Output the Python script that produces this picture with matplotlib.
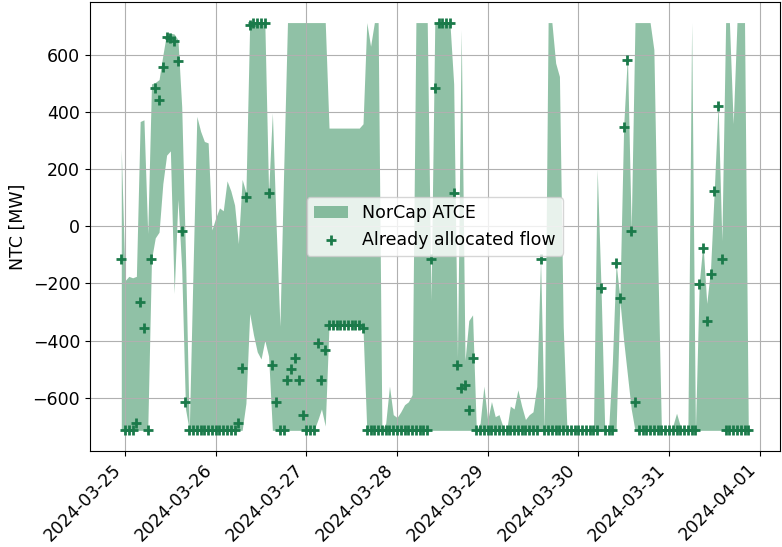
import pandas as pd
import matplotlib
matplotlib.use("Agg")
import matplotlib.pyplot as plt
import matplotlib.dates as mdates

# ----- data (hourly, first stamp 2024-03-24 23:00) -----
START = "2024-03-24 23:00"

ntc_upper = [
    270, -190, -175, -180, -175, 368, 374, -25, 500, 505, 515, 600,
    678, 678, 675, 655, 420, -100, -715, -150, 386, 334, 298, 293,
    -12, 30, 65, 55, 160, 125, 75, -60, 165, 120, 715, 715,
    715, 715, 715, 120, 398, 0, -350, 200, 715, 715, 715, 715,
    715, 715, 715, 715, 715, 715, 715, 345, 345, 345, 345, 345,
    345, 345, 345, 345, 360, 715, 632, 715, 715, -715, -690, -560,
    -660, -670, -650, -625, -615, -590, 715, 715, 715, 715, -260, 715,
    715, 715, 715, 715, 500, -460, 690, -470, -330, -310, -715, -690,
    -560, -680, -614, -667, -660, -700, -715, -630, -640, -573, -630, -677,
    -660, -650, -561, -115, -715, 715, 715, 573, 526, -350, -715, -715,
    -715, -715, -715, -715, -715, -715, 200, -210, -715, -715, -480, -129,
    -250, 351, 600, -10, 715, 715, 715, 715, 715, 620, -100, -715,
    -715, -715, -700, -655, -700, -715, -715, 715, -715, -200, -60, -270,
    -150, 130, 430, -50, 715, 715, 360, 715, 715, 715, -715,
]

ntc_lower = [
    -715, -715, -715, -715, -715, -715, -715, -715, -115, -40, -20, 150,
    250, 265, -235, 95, -150, -640, -715, -715, -715, -715, -715, -715,
    -715, -715, -715, -715, -715, -715, -715, -715, -715, -620, -305, -380,
    -440, -465, -400, -455, -715, -715, -715, -715, -715, -715, -715, -715,
    -715, -715, -715, -715, -680, -640, -700, -345, -345, -345, -345, -345,
    -345, -345, -345, -345, -360, -715, -715, -715, -715, -715, -715, -715,
    -715, -715, -715, -715, -715, -715, -715, -715, -715, -715, -715, -715,
    -715, -715, -715, -715, -715, -715, -715, -715, -715, -715, -715, -715,
    -715, -715, -715, -715, -715, -715, -715, -715, -715, -715, -715, -715,
    -715, -715, -715, -715, -715, -715, -715, -715, -715, -715, -715, -715,
    -715, -715, -715, -715, -715, -715, -715, -715, -715, -715, -715, -715,
    -260, -400, -520, -640, -715, -715, -715, -715, -715, -715, -715, -715,
    -715, -715, -715, -715, -715, -715, -715, -715, -715, -715, -715, -715,
    -715, -715, -715, -715, -715, -715, -715, -715, -715, -715, -715,
]

allocated_flow = [
    -115, -715, -715, -715, -690, -265, -357, -715, -115, 485, 445, 560,
    665, 660, 650, 582, -15, -617, -715, -715, -715, -715, -715, -715,
    -715, -715, -715, -715, -715, -715, -715, -690, -497, 105, 705, 715,
    715, 715, 715, 117, -485, -617, -715, -715, -540, -500, -460, -538,
    -660, -715, -715, -715, -410, -538, -433, -345, -345, -345, -345, -345,
    -345, -345, -345, -345, -357, -715, -715, -715, -715, -715, -715, -715,
    -715, -715, -715, -715, -715, -715, -715, -715, -715, -715, -115, 486,
    715, 715, 715, 715, 119, -485, -566, -555, -643, -462, -715, -715,
    -715, -715, -715, -715, -715, -715, -715, -715, -715, -715, -715, -715,
    -715, -715, -715, -115, -715, -715, -715, -715, -715, -715, -715, -715,
    -715, -715, -715, -715, -715, -715, -715, -215, -715, -715, -715, -129,
    -252, 349, 585, -15, -617, -715, -715, -715, -715, -715, -715, -715,
    -715, -715, -715, -715, -715, -715, -715, -715, -715, -201, -76, -333,
    -167, 123, 421, -114, -715, -715, -715, -715, -715, -715, -715,
]

FILL_COLOR = "#2e8b57"
MARKER_COLOR = "#1b7a4a"

plt.rcParams["font.size"] = 12.5

times = pd.date_range(START, periods=len(ntc_upper), freq="h")

fig, ax = plt.subplots(figsize=(7.82, 5.47), dpi=100)
fig.subplots_adjust(left=0.115, right=0.997, top=0.996, bottom=0.176)

ax.fill_between(times, ntc_lower, ntc_upper, color=FILL_COLOR, alpha=0.53,
                linewidth=0, label="NorCap ATCE")
ax.scatter(times, allocated_flow, marker="+", s=60, linewidths=2,
           color=MARKER_COLOR, label="Already allocated flow", zorder=3)

ax.set_ylabel("NTC [MW]")
ax.xaxis.set_major_locator(mdates.DayLocator())
ax.xaxis.set_major_formatter(mdates.DateFormatter("%Y-%m-%d"))
plt.setp(ax.get_xticklabels(), rotation=45, ha="right")
# grid stays above the filled band, like the default axisbelow="line"
ax.grid(True, color="#b0b0b0")
ax.legend(loc="center")

fig.savefig("out.png", dpi=100)
